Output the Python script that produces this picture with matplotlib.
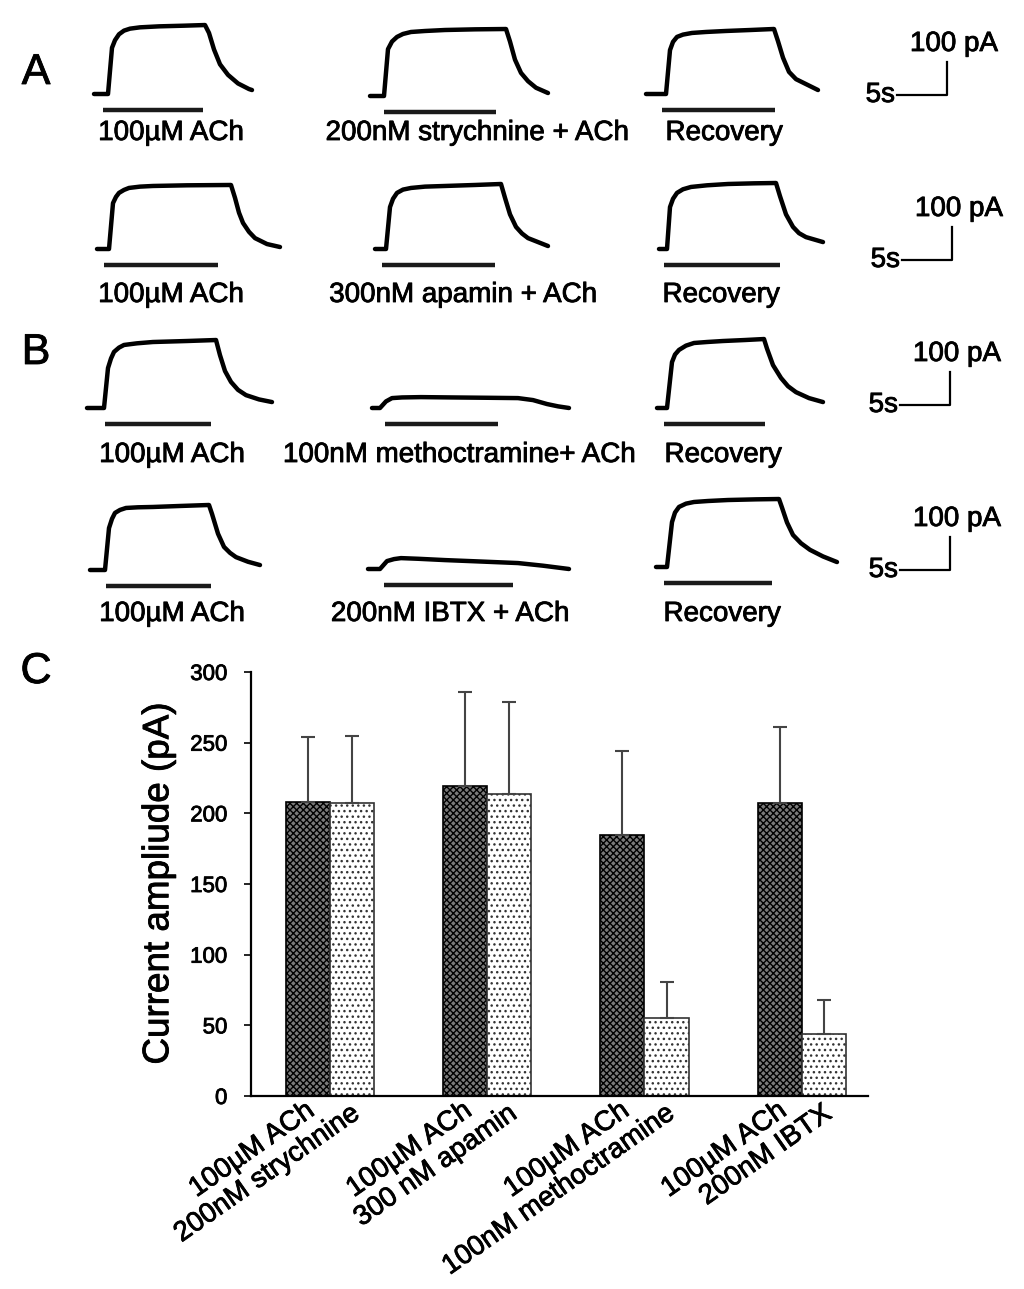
import numpy as np
import matplotlib
matplotlib.use('Agg')
import matplotlib.pyplot as plt
import matplotlib.patheffects as pe
from matplotlib.transforms import ScaledTranslation

plt.rcParams['font.family'] = ['Liberation Sans', 'DejaVu Sans']
plt.rcParams['hatch.linewidth'] = 1.0

# ---- traces (time in s from trace start, current in pA above baseline) ----
t1 = [0, 1.4, 1.8, 2.1, 2.5, 3.0, 3.6, 4.6, 6.5, 9.0, 11.1, 11.5, 12.0, 12.6, 13.4, 14.4, 15.5, 15.8]
i1 = [0, 0, 140, 163, 181, 192, 198, 202, 205, 207, 209, 185, 135, 90, 58, 32, 15, 12]
t2 = [0, 1.4, 1.8, 2.2, 2.7, 3.3, 4.1, 5.5, 7.5, 10.5, 13.6, 14.0, 14.5, 15.1, 15.8, 16.6, 17.8]
i2 = [0, 0, 142, 165, 179, 188, 194, 197, 200, 202, 203, 165, 110, 70, 45, 25, 9]
t3 = [0, 2.0, 2.4, 2.7, 3.1, 3.7, 4.6, 6.0, 8.0, 10.5, 12.8, 13.2, 13.7, 14.3, 15.0, 15.8, 17.2]
i3 = [0, 0, 133, 158, 173, 180, 185, 188, 191, 194, 197, 160, 110, 67, 45, 33, 12]

t4 = [0, 1.2, 1.6, 1.9, 2.2, 2.7, 3.2, 4.3, 5.6, 9.0, 13.4, 13.8, 14.2, 14.6, 15.2, 15.8, 17.0, 18.3]
i4 = [0, 0, 139, 158, 170, 179, 185, 189, 191, 193, 194, 155, 110, 79, 52, 33, 15, 6]
t5 = [0, 1.1, 1.5, 1.8, 2.2, 2.8, 3.6, 5.0, 7.0, 10.0, 12.6, 13.0, 13.5, 14.1, 14.7, 15.3, 17.3]
i5 = [0, 0, 127, 152, 170, 180, 185, 189, 191, 194, 197, 155, 105, 67, 47, 33, 9]
t6 = [0, 0.8, 1.1, 1.4, 1.8, 2.4, 3.2, 4.8, 6.9, 9.5, 11.7, 12.1, 12.7, 13.4, 14.0, 14.7, 16.4]
i6 = [0, 0, 127, 152, 170, 181, 188, 193, 197, 199, 200, 160, 105, 67, 48, 36, 21]

t7 = [0, 1.7, 2.1, 2.4, 2.7, 3.2, 3.7, 5.0, 6.6, 10.0, 12.9, 13.3, 13.8, 14.4, 15.1, 15.9, 17.2, 18.5]
i7 = [0, 0, 121, 150, 170, 183, 191, 196, 200, 203, 206, 160, 112, 79, 55, 39, 26, 18]
t8 = [0, 0.8, 1.4, 2.0, 3.0, 4.9, 8.0, 11.5, 14.6, 16.1, 17.5, 18.6, 19.7]
i8 = [0, 0, 20, 30, 32, 33, 32, 31, 30, 24, 12, 5, 0]
t9 = [0, 1.0, 1.5, 1.8, 2.2, 2.9, 3.7, 5.0, 6.6, 8.8, 10.7, 11.0, 11.6, 12.4, 13.1, 13.9, 15.2, 16.6]
i9 = [0, 0, 139, 162, 176, 189, 197, 200, 203, 206, 209, 180, 130, 91, 66, 48, 30, 18]

t10 = [0, 1.5, 1.9, 2.2, 2.5, 3.0, 3.6, 4.8, 6.3, 9.0, 11.9, 12.2, 12.8, 13.4, 14.0, 14.6, 15.8, 17.0]
i10 = [0, 0, 127, 155, 173, 182, 188, 190, 191, 194, 197, 170, 110, 70, 52, 39, 25, 15]
t11 = [0, 1.2, 1.9, 2.6, 3.3, 5.0, 7.7, 11.0, 15.0, 17.5, 20.1]
i11 = [0, 0, 24, 30, 33, 31, 27, 23, 18, 10, 0]
t12 = [0, 1.1, 1.6, 1.9, 2.3, 3.0, 3.8, 5.2, 7.2, 10.0, 12.3, 12.6, 13.1, 13.7, 14.5, 15.4, 16.7, 18.1]
i12 = [0, 0, 136, 165, 182, 192, 197, 200, 203, 205, 206, 180, 135, 97, 72, 52, 32, 15]

# drug application bars (start, end) in s from trace start
app1 = [(0.9, 10.9), (1.4, 12.6), (1.6, 12.9)]
app2 = [(0.7, 12.1), (0.7, 12.0), (0.5, 12.1)]
app3 = [(1.8, 12.4), (1.3, 12.6), (0.7, 10.8)]
app4 = [(1.6, 12.1), (1.6, 14.5), (0.8, 11.6)]

labels_row1 = ['100\u00b5M ACh', '200nM strychnine + ACh', 'Recovery']
labels_row2 = ['100\u00b5M ACh', '300nM apamin + ACh', 'Recovery']
labels_row3 = ['100\u00b5M ACh', '100nM methoctramine+ ACh', 'Recovery']
labels_row4 = ['100\u00b5M ACh', '200nM IBTX + ACh', 'Recovery']

# ---- bar chart ----
ctrl_names = ['100\u00b5M ACh', '100\u00b5M ACh', '100\u00b5M ACh', '100\u00b5M ACh']
drug_names = ['200nM strychnine', '300 nM apamin', '100nM methoctramine', '200nM IBTX']
ach_mean = [208, 219, 185, 207]
ach_err = [46, 67, 59, 54]
drug_mean = [207, 214, 55, 44]
drug_err = [48, 65, 26, 24]

# ---- layout ----
W, H = 1024, 1289
PX_S = 10.0      # px per second
PX_PA = 0.33     # px per pA
TOP_H = 640
heavy = [pe.withStroke(linewidth=0.6, foreground='black')]

fig = plt.figure(figsize=(W / 100, H / 100), dpi=100)
ax = fig.add_axes([0, 1 - TOP_H / H, 1, TOP_H / H])
ax.set_xlim(0, W / PX_S)
ax.set_ylim(-TOP_H / PX_PA, 0)
ax.axis('off')


def px(x, y):
    return x / PX_S, -y / PX_PA


rows = [
    ([(t1, i1), (t2, i2), (t3, i3)], app1, labels_row1,
     [(94, 94), (370, 96), (646, 94)], 133),
    ([(t4, i4), (t5, i5), (t6, i6)], app2, labels_row2,
     [(97, 249), (375, 249), (659, 249)], 295),
    ([(t7, i7), (t8, i8), (t9, i9)], app3, labels_row3,
     [(87, 408), (372, 408), (657, 408)], 455),
    ([(t10, i10), (t11, i11), (t12, i12)], app4, labels_row4,
     [(90, 570), (368, 569), (656, 567)], 614),
]
label_x = [[171, 477, 724], [171, 463, 721], [172, 459, 723], [172, 450, 722]]

for r, (traces, apps, labs, origins, ly) in enumerate(rows):
    for k, ((t, cur), (a0, a1), (ox, oy)) in enumerate(zip(traces, apps, origins)):
        x0, y0 = px(ox, oy)
        ax.plot(x0 + np.array(t), y0 + np.array(cur), color='black', lw=3.2,
                solid_joinstyle='round', solid_capstyle='round')
        by = y0 - 16 / PX_PA
        ax.plot([x0 + a0, x0 + a1], [by, by], color='#1a1a1a', lw=3.2,
                solid_capstyle='butt')
        tx, ty = px(label_x[r][k], ly)
        ax.text(tx, ty, labs[k], ha='center', va='center', fontsize=20,
                path_effects=heavy)

# scale bars: 5 s and 100 pA
scale_pos = [(947, 95), (952, 260), (950, 405), (950, 570)]
for sx, sy in scale_pos:
    cx, cy = px(sx, sy)
    ax.plot([cx - 5, cx, cx], [cy, cy, cy + 100], color='black', lw=1.6)
    ax.text(cx - 5 - 0.2, cy, '5s', ha='right', va='center', fontsize=20,
            path_effects=heavy)
    ax.text(cx + 0.7, cy + 100 + 5 / PX_PA, '100 pA', ha='center',
            va='bottom', fontsize=20, path_effects=heavy)

for letter, (lx, ly) in zip('ABC', [(36, 73), (36, 353), (36, 672)]):
    fig.text(lx / W, 1 - ly / H, letter, ha='center', va='center', fontsize=31,
             path_effects=heavy)

# ---- panel C ----
bx = fig.add_axes([251 / W, 193 / H, 617 / W, 424 / H])
x = np.arange(len(ach_mean))
bw = 0.28
bx.bar(x - bw / 2, ach_mean, bw, yerr=[np.zeros(4), ach_err],
       facecolor='#7a7a7a', edgecolor='black', linewidth=1.2, hatch='xxxxx',
       error_kw=dict(ecolor='#444444', elinewidth=1.5, capsize=5, capthick=1.5),
       zorder=2)
bx.bar(x + bw / 2, drug_mean, bw, yerr=[np.zeros(4), drug_err],
       facecolor='white', edgecolor='#333333', linewidth=1.2, hatch='...',
       error_kw=dict(ecolor='#444444', elinewidth=1.5, capsize=5, capthick=1.5),
       zorder=2)
bx.set_xlim(-0.5, 3.42)
bx.set_ylim(0, 300)
bx.set_yticks(range(0, 301, 50))
bx.tick_params(axis='y', labelsize=16, direction='out', length=5, width=1.2,
               pad=12)
bx.set_xticks([])
for lab in bx.get_yticklabels():
    lab.set_path_effects(heavy)

# two-line group labels, each line anchored at its right end below the axis
for c, l1, l2 in zip(x, ctrl_names, drug_names):
    for txt, dx, dy in [(l1, -14, 18), (l2, 31, 21)]:
        tr = bx.transData + ScaledTranslation(dx / 100, -dy / 100,
                                              fig.dpi_scale_trans)
        bx.text(c, 0, txt, transform=tr, rotation=35, rotation_mode='anchor',
                ha='right', va='baseline', fontsize=20, clip_on=False,
                path_effects=heavy)

for sp in ['top', 'right']:
    bx.spines[sp].set_visible(False)
for sp in ['left', 'bottom']:
    bx.spines[sp].set_linewidth(1.6)
bx.set_ylabel('Current ampliude (pA)', fontsize=26.5, labelpad=10,
              path_effects=heavy)

fig.savefig('out.png', dpi=100)
